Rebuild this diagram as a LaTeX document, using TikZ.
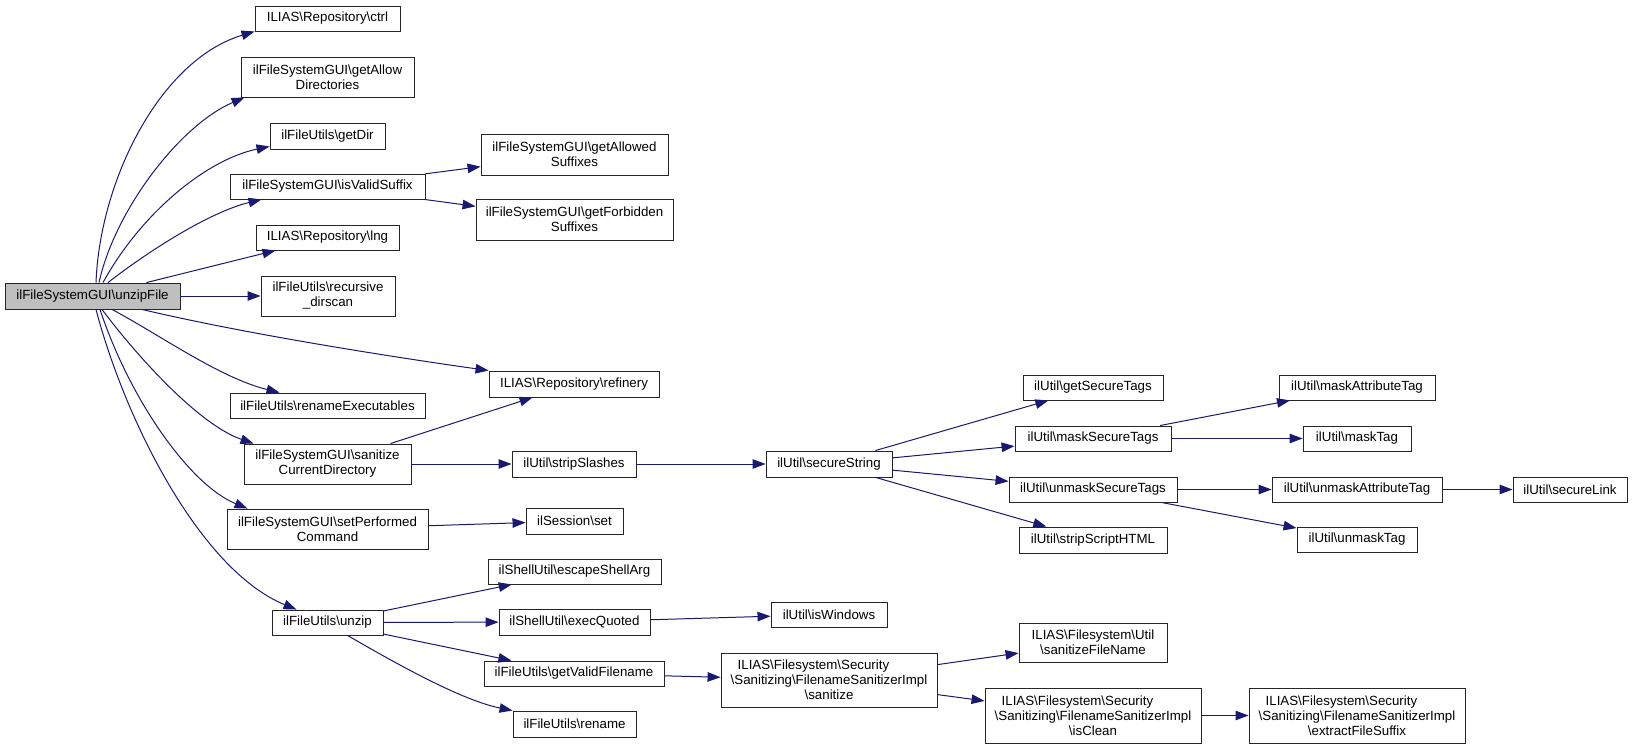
\documentclass[tikz,border=0pt]{standalone}
\usepackage{fontspec}
\setmainfont{Liberation Sans}
\usepackage{calc}
\usetikzlibrary{arrows.meta}
\definecolor{edgecol}{HTML}{191970}
\definecolor{rootfill}{HTML}{BFBFBF}
\newcommand{\bks}{\textbackslash}
\newcommand{\firstl}[2]{\makebox[\widthof{#2}][l]{\hspace{7pt}#1}}
\begin{document}
\begin{tikzpicture}[x=1pt,y=-1pt,
  box/.style={draw=black!85, line width=0.9pt, fill=white, inner sep=0pt, align=center, font=\fontsize{13.3}{15}\selectfont},
  conn/.style={draw=edgecol, line width=1pt, -{Triangle[length=13pt,width=9.5pt]}}]
\useasboundingbox (0,0) rectangle (1633,749);

% column 0
\node[box, fill=rootfill, minimum width=175pt, minimum height=26pt] (root) at (92.5,296) {ilFileSystemGUI\bks unzipFile};
% column 1
\node[box, minimum width=145pt, minimum height=25pt] (ctrl) at (327.5,18.5) {ILIAS\bks Repository\bks ctrl};
\node[box, minimum width=173pt, minimum height=40pt] (getallow) at (327.5,77) {ilFileSystemGUI\bks getAllow\\Directories};
\node[box, minimum width=115pt, minimum height=26pt] (getdir) at (327.5,136) {ilFileUtils\bks getDir};
\node[box, minimum width=195pt, minimum height=25pt] (isvalid) at (327.5,186.5) {ilFileSystemGUI\bks isValidSuffix};
\node[box, minimum width=143pt, minimum height=25pt] (lng) at (327.5,237.5) {ILIAS\bks Repository\bks lng};
\node[box, minimum width=134pt, minimum height=40pt] (recursive) at (328,296) {ilFileUtils\bks recursive\\\_dirscan};
\node[box, minimum width=195pt, minimum height=25pt] (renameexec) at (327.5,405.5) {ilFileUtils\bks renameExecutables};
\node[box, minimum width=167pt, minimum height=40pt] (sanitizecd) at (327.5,464) {ilFileSystemGUI\bks sanitize\\CurrentDirectory};
\node[box, minimum width=201pt, minimum height=40pt] (setperf) at (327.5,529) {ilFileSystemGUI\bks setPerformed\\Command};
\node[box, minimum width=111pt, minimum height=25pt] (unzip) at (327.5,622.5) {ilFileUtils\bks unzip};
% column 2
\node[box, minimum width=187pt, minimum height=41pt] (getallowed) at (574.5,154.5) {ilFileSystemGUI\bks getAllowed\\Suffixes};
\node[box, minimum width=197pt, minimum height=41pt] (getforbidden) at (574.5,219.5) {ilFileSystemGUI\bks getForbidden\\Suffixes};
\node[box, minimum width=170pt, minimum height=26pt] (refinery) at (574,384) {ILIAS\bks Repository\bks refinery};
\node[box, minimum width=124pt, minimum height=26pt] (stripslashes) at (574,464) {ilUtil\bks stripSlashes};
\node[box, minimum width=97pt, minimum height=26pt] (sessionset) at (574.5,521) {ilSession\bks set};
\node[box, minimum width=173pt, minimum height=25pt] (escape) at (574.5,571.5) {ilShellUtil\bks escapeShellArg};
\node[box, minimum width=151pt, minimum height=26pt] (execquoted) at (574.5,622) {ilShellUtil\bks execQuoted};
\node[box, minimum width=180pt, minimum height=25pt] (getvalid) at (574,673.5) {ilFileUtils\bks getValidFilename};
\node[box, minimum width=123pt, minimum height=26pt] (rename) at (574.5,724) {ilFileUtils\bks rename};
% column 3
\node[box, minimum width=126pt, minimum height=26pt] (securestring) at (829,464) {ilUtil\bks secureString};
\node[box, minimum width=116pt, minimum height=25pt] (iswindows) at (829,614.5) {ilUtil\bks isWindows};
\node[box, minimum width=216pt, minimum height=54pt] (sanitize) at (829,680) {\firstl{ILIAS\bks Filesystem\bks Security}{\bks Sanitizing\bks FilenameSanitizerImpl}\\\bks Sanitizing\bks FilenameSanitizerImpl\\\bks sanitize};
% column 4
\node[box, minimum width=140pt, minimum height=25pt] (getsecure) at (1093,387.5) {ilUtil\bks getSecureTags};
\node[box, minimum width=156pt, minimum height=25pt] (masksecure) at (1093,438.5) {ilUtil\bks maskSecureTags};
\node[box, minimum width=168pt, minimum height=25pt] (unmasksecure) at (1093,489.5) {ilUtil\bks unmaskSecureTags};
\node[box, minimum width=148pt, minimum height=26pt] (stripscript) at (1093,540) {ilUtil\bks stripScriptHTML};
\node[box, minimum width=148pt, minimum height=39pt] (sanitizefn) at (1093,642.5) {ILIAS\bks Filesystem\bks Util\\\bks sanitizeFileName};
\node[box, minimum width=216pt, minimum height=55pt] (isclean) at (1093,715.5) {\firstl{ILIAS\bks Filesystem\bks Security}{\bks Sanitizing\bks FilenameSanitizerImpl}\\\bks Sanitizing\bks FilenameSanitizerImpl\\\bks isClean};
% column 5
\node[box, minimum width=156pt, minimum height=25pt] (maskattr) at (1357,387.5) {ilUtil\bks maskAttributeTag};
\node[box, minimum width=108pt, minimum height=25pt] (masktag) at (1357,438.5) {ilUtil\bks maskTag};
\node[box, minimum width=170pt, minimum height=25pt] (unmaskattr) at (1357,489.5) {ilUtil\bks unmaskAttributeTag};
\node[box, minimum width=120pt, minimum height=25pt] (unmasktag) at (1357,539.5) {ilUtil\bks unmaskTag};
\node[box, minimum width=216pt, minimum height=55pt] (extract) at (1357,715.5) {\firstl{ILIAS\bks Filesystem\bks Security}{\bks Sanitizing\bks FilenameSanitizerImpl}\\\bks Sanitizing\bks FilenameSanitizerImpl\\\bks extractFileSuffix};
% column 6
\node[box, minimum width=114pt, minimum height=25pt] (securelink) at (1570,489.5) {ilUtil\bks secureLink};

% edges from root
\draw[conn] ([xshift=3.5pt]root.north) .. controls (100,180) and (160,60) .. (ctrl.south west);
\draw[conn] ([xshift=6.5pt]root.north) .. controls (115,210) and (180,125) .. ([xshift=4pt]getallow.south west);
\draw[conn] ([xshift=10.5pt]root.north) .. controls (140,215) and (205,160) .. ([yshift=3pt]getdir.south west);
\draw[conn] ([xshift=15.5pt]root.north) .. controls (150,250) and (210,212) .. ([xshift=32pt]isvalid.south west);
\draw[conn] (root) -- (lng);
\draw[conn] (root) -- (recursive);
\draw[conn] ([xshift=49.5pt]root.south) .. controls (250,335) and (400,358) .. (refinery.north west);
\draw[conn] ([xshift=19.5pt]root.south) .. controls (160,335) and (220,378) .. ([xshift=50pt]renameexec.north west);
\draw[conn] ([xshift=9.5pt]root.south) .. controls (140,360) and (200,425) .. ([xshift=10pt]sanitizecd.north west);
\draw[conn] ([xshift=7.5pt]root.south) .. controls (130,400) and (190,485) .. ([xshift=21pt]setperf.north west);
\draw[conn] ([xshift=3.5pt]root.south) .. controls (125,420) and (200,570) .. ([xshift=25pt]unzip.north west);

% other edges
\draw[conn] (isvalid) -- (getallowed);
\draw[conn] (isvalid) -- (getforbidden);
\draw[conn] (sanitizecd) -- (refinery);
\draw[conn] (sanitizecd) -- (stripslashes);
\draw[conn] (setperf) -- (sessionset);
\draw[conn] (stripslashes) -- (securestring);
\draw[conn] (securestring) -- (getsecure);
\draw[conn] (securestring) -- (masksecure);
\draw[conn] (securestring) -- (unmasksecure);
\draw[conn] (securestring) -- (stripscript);
\draw[conn] (masksecure) -- (maskattr);
\draw[conn] (masksecure) -- (masktag);
\draw[conn] (unmasksecure) -- (unmaskattr);
\draw[conn] (unmasksecure) -- (unmasktag);
\draw[conn] (unmaskattr) -- (securelink);
\draw[conn] (unzip) -- (escape);
\draw[conn] (unzip) -- (execquoted);
\draw[conn] (unzip) -- (getvalid);
\draw[conn] ([xshift=20pt]unzip.south) .. controls (390,660) and (460,700) .. (rename.north west);
\draw[conn] (execquoted) -- (iswindows);
\draw[conn] (getvalid) -- (sanitize);
\draw[conn] (sanitize) -- (sanitizefn);
\draw[conn] (sanitize) -- (isclean);
\draw[conn] (isclean) -- (extract);
\end{tikzpicture}
\end{document}
